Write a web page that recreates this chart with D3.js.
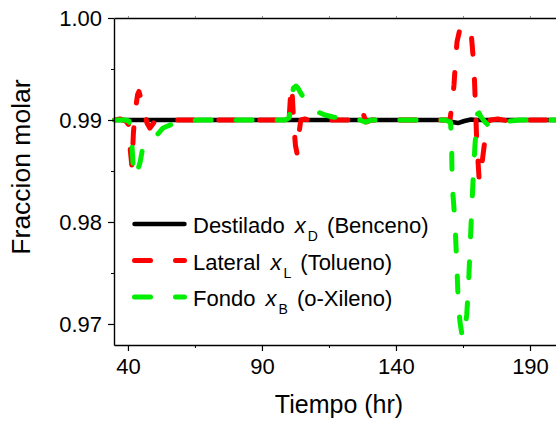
<!DOCTYPE html>
<html><head><meta charset="utf-8">
<script src="https://cdn.jsdelivr.net/npm/d3@7"></script>
<style>
html,body{margin:0;padding:0;background:#fff;}
svg{display:block;font-family:"Liberation Sans",Arial,Helvetica,sans-serif;}
</style>
</head><body>
<svg id="chart" width="556" height="421"></svg>
<script>
// ---- data ----
const xMajorTicks = [40, 90, 140, 190];
const xMinorTicks = [65, 115, 165];
const yMajorTicks = [0.97, 0.98, 0.99, 1.00];
const yMinorTicks = [0.975, 0.985, 0.995];
const xTitle = "Tiempo (hr)";
const yTitle = "Fraccion molar";

const legendNames = ["Destilado", "Lateral", "Fondo"];
const legendSubs = ["D", "L", "B"];
const legendComps = ["(Benceno)", "(Tolueno)", "(o-Xileno)"];

// Destilado x_D
const tD = [35, 159, 161, 163.1, 165.5, 168, 170, 202];
const xD = [0.99, 0.99, 0.9898, 0.9897, 0.9899, 0.99005, 0.99, 0.99];

// Lateral x_L
const tL = [35, 37, 39.2, 40.4, 40.9, 41.5, 42.05, 42.8, 43.6, 44.1, 45.8, 47.1, 48.2, 50.1, 52,
  98.6, 99.3, 100.1, 100.9, 101.3, 101.9, 102.5, 103.1, 103.7, 104.5, 106, 108.7, 111,
  124.7, 126.6, 127.7, 128.8, 131,
  160.15, 161.08, 161.64, 162.2, 162.76, 163.69, 165.0, 166.12, 167.24, 168.17, 168.73, 169.29, 169.7,
  170.1, 170.55, 171.0, 171.35, 171.8, 172.3, 173.2, 174.2, 175.1, 178, 182, 186, 202];
const xL = [0.99, 0.9901, 0.9899, 0.9895, 0.9870, 0.9854, 0.9888, 0.9910, 0.9925, 0.9928, 0.9912, 0.9897, 0.9892, 0.9899, 0.99,
  0.99, 0.9895, 0.99, 0.9934, 0.9925, 0.9895, 0.9875, 0.9867, 0.9885, 0.9900, 0.9901, 0.9899, 0.99,
  0.99, 0.9898, 0.9907, 0.9898, 0.99,
  0.99, 0.99196, 0.99343, 0.99569, 0.99765, 0.99873, 0.99922, 0.99931, 0.99902, 0.99814, 0.99637, 0.99392, 0.99098,
  0.9882, 0.9862, 0.9843, 0.9840, 0.9846, 0.9862, 0.9881, 0.9895, 0.99, 0.9901, 0.9899, 0.99, 0.99];

// Fondo x_B
const tB = [35, 38.9, 40.4, 40.9, 41.4, 41.7, 42.05, 42.45, 43.4, 44.5, 45.4, 46.3, 48.2, 50.8, 53.1, 55.7, 59.4, 63.1, 67,
  98.6, 100.1, 100.6, 101.2, 101.75, 102.7, 103.4, 104.9, 106.8, 108.7, 110.9, 113.5, 116.5, 122.1, 126.6, 128.4, 129.6, 131,
  158.3, 160.34, 160.71, 160.9, 161.27, 162.01, 162.65, 163.25, 163.88, 164.81, 165.56, 166.38, 166.98, 167.61, 168.25, 168.85,
  169.48, 170.11, 170.41, 170.97, 171.72, 173.21, 175.07, 176.57, 178.81, 182.54, 186.27, 202];
const xB = [0.99, 0.99, 0.9899, 0.9892, 0.9880, 0.9866, 0.9851, 0.9844, 0.9849, 0.9858, 0.9871, 0.98775, 0.98814, 0.98853, 0.98922, 0.98951, 0.9898, 0.98995, 0.99,
  0.99, 0.9902, 0.9910, 0.99245, 0.99314, 0.99333, 0.99314, 0.99245, 0.99186, 0.99127, 0.99078, 0.99049, 0.99029, 0.9901, 0.99, 0.9898, 0.9899, 0.99,
  0.99, 0.9898, 0.98804, 0.9851, 0.98265, 0.98, 0.97608, 0.97206, 0.9702, 0.96863, 0.96912, 0.97088, 0.97333, 0.97725, 0.98118, 0.98461,
  0.98755, 0.9898, 0.99059, 0.99069, 0.99029, 0.9898, 0.98931, 0.98931, 0.98961, 0.9899, 0.99, 0.99];

// ---- layout ----
const svg = d3.select("#chart");
const L = 114, T = 18, B = 345, R = 562;
const x = d3.scaleLinear().domain([34.8, 40 + (R - 128) / 2.68]).range([L, R]);
const y = d3.scaleLinear().domain([0.96794, 1.0]).range([B, T]);

const colors = ["#000000", "#ff0000", "#00ee00"];
const dashes = [null, "16,25", "16,25"];
const widths = [4.5, 5, 5];
const series = [[tD, xD], [tL, xL], [tB, xB]];

const line = d3.line().x(d => x(d[0])).y(d => y(d[1]));
series.forEach((s, i) => {
  const pts = s[0].map((t, k) => [t, s[1][k]]);
  svg.append("path").datum(pts)
    .attr("d", line)
    .attr("fill", "none")
    .attr("stroke", colors[i])
    .attr("stroke-width", widths[i])
    .attr("stroke-linecap", "round")
    .attr("stroke-linejoin", "round")
    .attr("stroke-dasharray", dashes[i]);
});

// ---- axes ----
const fmt = d3.format(".2f");
const gy = svg.append("g").attr("transform", `translate(${L},0)`)
  .call(d3.axisLeft(y).tickValues(yMajorTicks).tickSize(6).tickSizeOuter(0).tickFormat(fmt));
gy.selectAll(".tick text").attr("x", -12).attr("dy", "0.36em").style("font-size", "22px").attr("fill", "#000")
  .style("font-family", '"Liberation Sans",Arial,sans-serif');
gy.selectAll(".tick line").attr("stroke-width", 1.2);
gy.select(".domain").attr("stroke-width", 1.4);
svg.append("g").attr("transform", `translate(${L},0)`)
  .call(d3.axisLeft(y).tickValues(yMinorTicks).tickSize(3).tickSizeOuter(0).tickFormat(""))
  .call(g => g.select(".domain").remove());

const gx = svg.append("g").attr("transform", `translate(0,${B})`)
  .call(d3.axisBottom(x).tickValues(xMajorTicks).tickSize(6).tickSizeOuter(0).tickFormat(d3.format("d")));
gx.selectAll(".tick text").attr("y", 29).attr("dy", 0).style("font-size", "22px").attr("fill", "#000")
  .style("font-family", '"Liberation Sans",Arial,sans-serif');
gx.selectAll(".tick line").attr("stroke-width", 1.2);
gx.select(".domain").attr("stroke-width", 1.4);
svg.append("g").attr("transform", `translate(0,${B})`)
  .call(d3.axisBottom(x).tickValues(xMinorTicks).tickSize(3).tickSizeOuter(0).tickFormat(""))
  .call(g => g.select(".domain").remove());

// top frame
const gt = svg.append("g").attr("transform", `translate(0,${T})`)
  .call(d3.axisTop(x).tickValues(xMajorTicks.concat(xMinorTicks)).tickSize(2).tickSizeOuter(0).tickFormat(""));
gt.select(".domain").attr("stroke-width", 1.4);
gt.selectAll(".tick line").attr("stroke", "#888");

// titles
svg.append("text").attr("x", 339).attr("y", 413).attr("text-anchor", "middle")
  .style("font-size", "25px").text(xTitle);
svg.append("text").attr("transform", "translate(30,167) rotate(-90)").attr("text-anchor", "middle")
  .style("font-size", "26.5px").text(yTitle);

// ---- legend ----
const legY = [224, 260.5, 297];
legendNames.forEach((n, i) => {
  const g = svg.append("g").attr("transform", `translate(0,${legY[i]})`);
  g.append("line").attr("x1", 134.5).attr("x2", 184.5).attr("y1", 0).attr("y2", 0)
    .attr("stroke", colors[i]).attr("stroke-width", i === 0 ? 4.5 : 5)
    .attr("stroke-linecap", "round").attr("stroke-dasharray", dashes[i]);
  const tx = g.append("text").attr("x", 193).attr("y", 9).style("font-size", "22px");
  tx.append("tspan").text(n + " ");
  tx.append("tspan").attr("font-style", "italic").attr("dx", 4).text("x");
  tx.append("tspan").style("font-size", "14px").attr("dx", 2).attr("dy", 8).text(legendSubs[i]);
  tx.append("tspan").attr("dy", -8).attr("dx", 3).text(" " + legendComps[i]);
});
</script>
</body></html>
